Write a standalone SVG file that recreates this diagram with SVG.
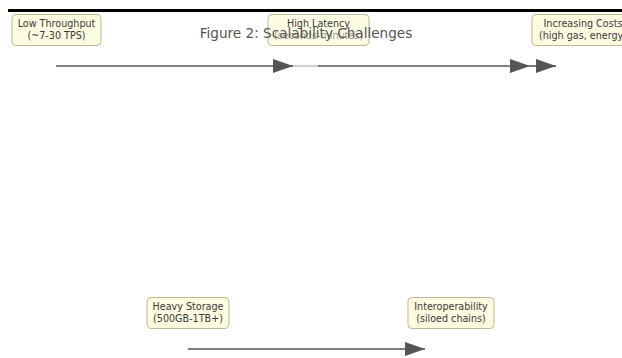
<svg xmlns="http://www.w3.org/2000/svg" width="622" height="358" viewBox="0 0 622 358">
  <defs>
    <style>
      .box { fill: #fdfbe0; stroke: #bdb892; stroke-width: 1; }
      .lbl { font-family: "DejaVu Sans", sans-serif; font-size: 9.6px; fill: #3a3a3a; text-anchor: middle; }
      .title { font-family: "DejaVu Sans", sans-serif; font-size: 13.6px; fill: #555555; text-anchor: middle; }
      .edge { stroke: #555555; stroke-width: 1.6; fill: none; }
    </style>
    <marker id="head" viewBox="0 0 20 14" refX="20" refY="7" markerWidth="20" markerHeight="14" markerUnits="userSpaceOnUse" orient="auto">
      <path d="M0,0 L20,7 L0,14 z" fill="#555555"/>
    </marker>
  </defs>

  <rect width="622" height="358" fill="#ffffff"/>
  <!-- top rule -->
  <rect x="8" y="9" width="614" height="3" fill="#000000"/>

  <!-- connectors -->
  <g id="connectors">
    <line class="edge" x1="56" y1="66" x2="293" y2="66" marker-end="url(#head)"/>
    <line class="edge" x1="293" y1="66" x2="318" y2="66" stroke-opacity="0.35"/>
    <line class="edge" x1="318" y1="66" x2="530" y2="66" marker-end="url(#head)"/>
    <line class="edge" x1="530" y1="66" x2="556" y2="66" marker-end="url(#head)"/>
    <line class="edge" x1="188" y1="349" x2="425" y2="349" marker-end="url(#head)"/>
  </g>

  <g id="node-throughput">
    <rect class="box" x="12" y="14.5" width="89" height="31" rx="4"/>
    <text class="lbl" x="56.5" y="27">Low Throughput</text>
    <text class="lbl" x="56.5" y="39">(~7-30 TPS)</text>
  </g>

  <g id="node-latency">
    <rect class="box" x="268" y="14.5" width="101" height="31" rx="4" fill-opacity="0.85"/>
    <text class="lbl" x="318.5" y="27">High Latency</text>
    <text class="lbl" x="318.5" y="39" fill-opacity="0.55">(seconds-minutes)</text>
  </g>

  <g id="node-costs">
    <rect class="box" x="532" y="14.5" width="102" height="31" rx="4"/>
    <text class="lbl" x="583" y="27">Increasing Costs</text>
    <text class="lbl" x="583" y="39">(high gas, energy)</text>
  </g>

  <g id="node-storage">
    <rect class="box" x="147" y="297.5" width="82" height="31" rx="4"/>
    <text class="lbl" x="188" y="310">Heavy Storage</text>
    <text class="lbl" x="188" y="322">(500GB-1TB+)</text>
  </g>

  <g id="node-interop">
    <rect class="box" x="408" y="297.5" width="86" height="31" rx="4"/>
    <text class="lbl" x="451" y="310">Interoperability</text>
    <text class="lbl" x="451" y="322">(siloed chains)</text>
  </g>

  <text class="title" x="306" y="38">Figure 2: Scalability Challenges</text>
</svg>
